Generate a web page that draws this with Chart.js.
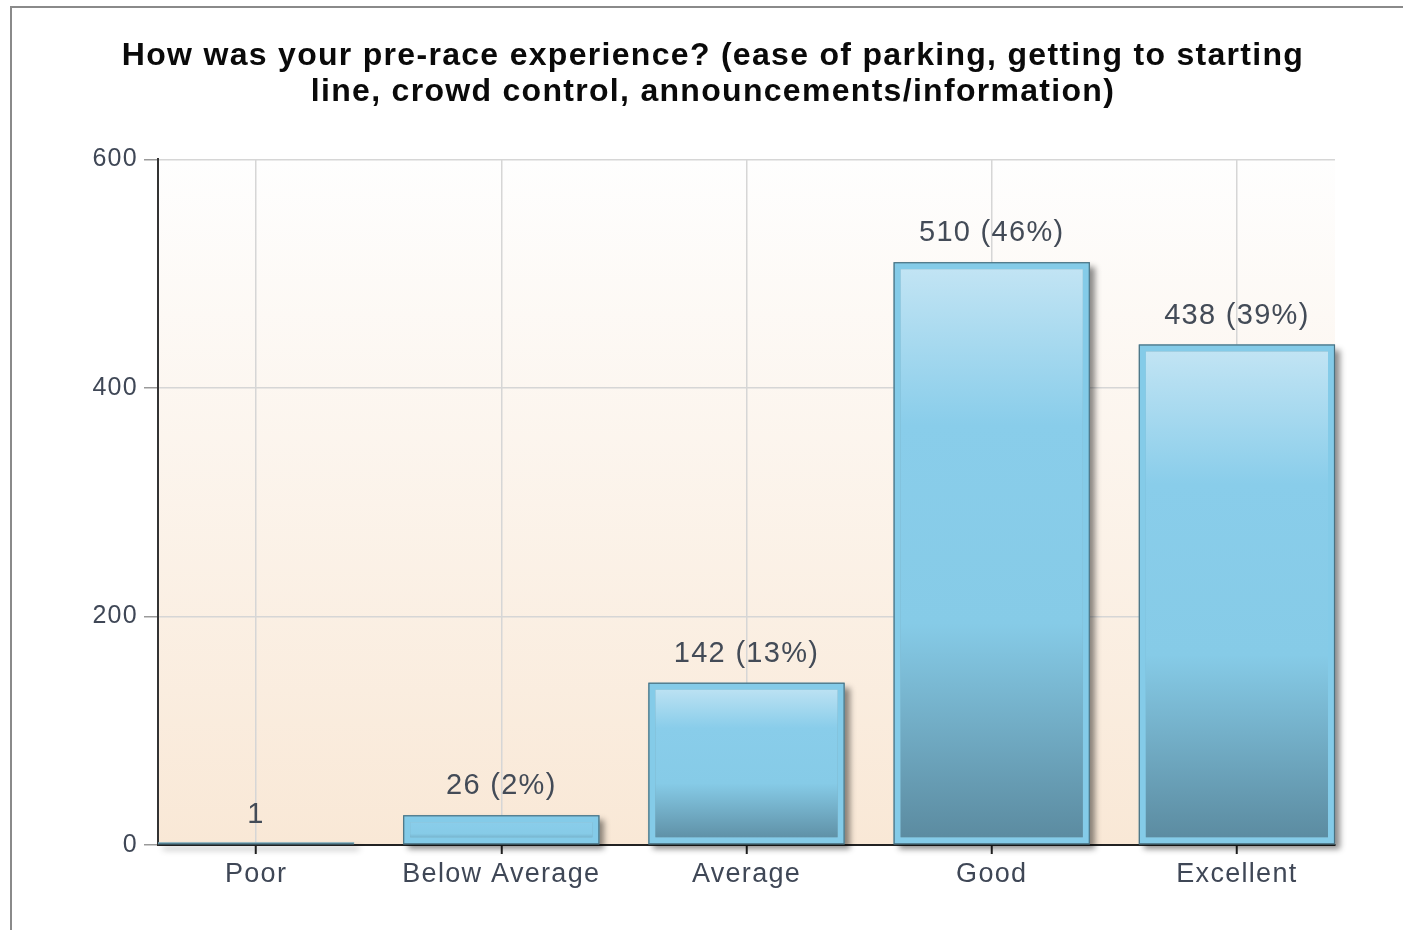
<!DOCTYPE html>
<html>
<head>
<meta charset="utf-8">
<script src="https://cdn.jsdelivr.net/npm/chart.js@4.4.1/dist/chart.umd.min.js"></script>
<style>
  html, body { margin: 0; padding: 0; background: #ffffff; overflow: hidden; }
  #wrap { position: relative; width: 1403px; height: 930px; }
  #frame { position: absolute; left: 10px; top: 6px; width: 2000px; height: 2000px;
           border-left: 2px solid #8a8a8a; border-top: 2px solid #8a8a8a; pointer-events: none; }
  canvas { position: absolute; left: 0; top: 0; }
</style>
</head>
<body>
<div id="wrap">
  <canvas id="c" width="1403" height="930"></canvas>
  <div id="frame"></div>
</div>
<script>
const titleLines = [
  "How was your pre-race experience? (ease of parking, getting to starting",
  "line, crowd control, announcements/information)"
];
const categories = ["Poor", "Below Average", "Average", "Good", "Excellent"];
const counts = [1, 26, 142, 510, 438];
const percents = [null, 2, 13, 46, 39];
const yTicks = [0, 200, 400, 600];

const FONT = "'Liberation Sans', Arial, sans-serif";
const SPACING = '1.3px';

const spacing = {
  id: 'spacing',
  beforeUpdate(chart) { chart.ctx.letterSpacing = SPACING; },
  beforeDraw(chart) { chart.ctx.letterSpacing = SPACING; }
};

const plotBg = {
  id: 'plotBg',
  beforeDraw(chart) {
    const { ctx, chartArea: a } = chart;
    if (!a) return;
    const g = ctx.createLinearGradient(0, a.top, 0, a.bottom);
    g.addColorStop(0, '#fefefe');
    g.addColorStop(1, '#f9e8d6');
    ctx.save();
    ctx.fillStyle = g;
    ctx.fillRect(a.left, a.top, a.right - a.left, a.bottom - a.top);
    ctx.restore();
  }
};

const barShadow = {
  id: 'barShadow',
  beforeDatasetsDraw(chart) {
    const ctx = chart.ctx;
    const meta = chart.getDatasetMeta(0);
    ctx.save();
    meta.data.forEach(bar => {
      const p = bar.getProps(['x', 'y', 'base', 'width'], true);
      const top = Math.min(p.y, p.base - 2);
      ctx.shadowColor = 'rgba(0,0,0,0.45)';
      ctx.shadowBlur = 6;
      ctx.shadowOffsetX = 5;
      ctx.shadowOffsetY = 5;
      ctx.fillStyle = '#7aa9bb';
      ctx.fillRect(p.x - p.width / 2, top, p.width, p.base - top);
    });
    ctx.restore();
  }
};

const barDecor = {
  id: 'barDecor',
  afterDatasetsDraw(chart) {
    const ctx = chart.ctx;
    const meta = chart.getDatasetMeta(0);
    ctx.save();
    ctx.letterSpacing = SPACING;
    meta.data.forEach((bar, i) => {
      const p = bar.getProps(['x', 'y', 'base', 'width'], true);
      ctx.strokeStyle = '#4a7282';
      ctx.lineWidth = 1.2;
      const h = Math.max(p.base - p.y, 1);
      ctx.strokeRect(p.x - p.width / 2 + 0.5, p.base - h + 0.5, p.width - 1, h - 1);
      const txt = percents[i] == null ? String(counts[i]) : counts[i] + ' (' + percents[i] + '%)';
      ctx.fillStyle = '#434b57';
      ctx.font = '29px ' + FONT;
      ctx.textAlign = 'center';
      ctx.textBaseline = 'middle';
      ctx.fillText(txt, p.x, p.y - 29);
    });
    ctx.restore();
  }
};

function barGradient(context) {
  const chart = context.chart;
  const a = chart.chartArea;
  if (!a || !chart.scales.y) return '#87ceeb';
  const v = counts[context.dataIndex];
  const yTop = chart.scales.y.getPixelForValue(v);
  const yBot = chart.scales.y.getPixelForValue(0);
  if (!isFinite(yTop) || yBot - yTop < 2) return '#3d6e80';
  const g = chart.ctx.createLinearGradient(0, yTop, 0, yBot);
  g.addColorStop(0, '#c4e5f4');
  g.addColorStop(0.28, '#89cdea');
  g.addColorStop(0.62, '#86cbe7');
  g.addColorStop(1, '#5a899e');
  return g;
}

function barBorder(context) {
  return counts[context.dataIndex] < 5 ? '#3d6e80' : '#84cbe8';
}

new Chart(document.getElementById('c'), {
  type: 'bar',
  data: {
    datasets: [{
      data: counts.map((v, i) => ({ x: i, y: v })),
      backgroundColor: barGradient,
      borderColor: barBorder,
      borderWidth: 7,
      borderSkipped: false,
      categoryPercentage: 0.8,
      barPercentage: 1.0
    }]
  },
  options: {
    responsive: false,
    animation: false,
    devicePixelRatio: 1,
    layout: { padding: { left: 91, right: 68, top: 0, bottom: 0 } },
    plugins: {
      legend: { display: false },
      tooltip: { enabled: false },
      title: {
        display: true,
        text: titleLines,
        color: '#0a0a0a',
        font: { family: FONT, size: 32, weight: 'bold', lineHeight: 1.1 },
        padding: { top: 39, bottom: 50 }
      }
    },
    scales: {
      x: {
        type: 'linear',
        offset: false,
        min: -0.4,
        max: 4.4,
        afterBuildTicks(scale) { scale.ticks = categories.map((c, i) => ({ value: i })); },
        afterFit(scale) { scale.height = 85; },
        ticks: {
          autoSkip: false,
          maxRotation: 0,
          padding: 4,
          color: '#3f4756',
          font: { family: FONT, size: 27 },
          callback: (v) => categories[v] ?? ''
        },
        grid: { offset: false, color: '#d6d6d6', lineWidth: 1.5, tickLength: 9, tickColor: '#222222', tickWidth: 2 },
        border: { color: '#222222', width: 2 }
      },
      y: {
        min: 0,
        max: 600,
        afterBuildTicks(scale) { scale.ticks = yTicks.map(v => ({ value: v })); },
        afterFit(scale) { scale.width = 67; },
        ticks: {
          padding: 6,
          color: '#3f4756',
          font: { family: FONT, size: 25 }
        },
        grid: { color: '#d6d6d6', lineWidth: 1.5, tickLength: 14, tickColor: '#9a9a9a' },
        border: { color: '#333333', width: 2 }
      }
    }
  },
  plugins: [spacing, plotBg, barShadow, barDecor]
});
</script>
</body>
</html>
